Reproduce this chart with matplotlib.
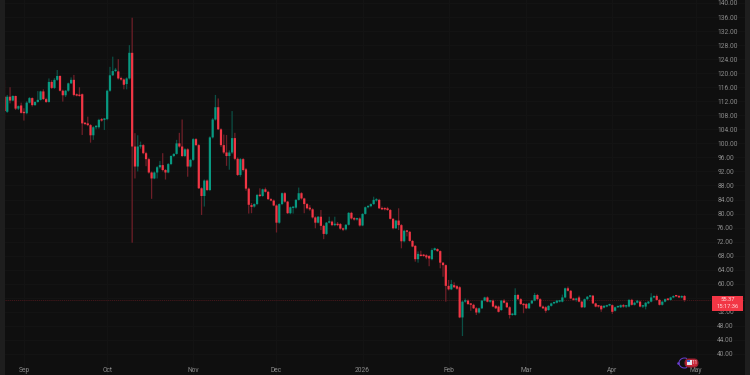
#!/usr/bin/env python3
"""Daily candles on a dark trading-terminal background, saved to out.png."""
import numpy as np
import matplotlib
matplotlib.use("Agg")
import matplotlib.pyplot as plt
from matplotlib.patches import Rectangle, FancyBboxPatch, Circle, Arc
from matplotlib.transforms import IdentityTransform

opens = [
    113.3,109.0,113.3,112.2,113.5,109.9,110.8,108.7,108.6,111.6,
    112.9,110.9,111.8,112.4,114.8,112.6,111.8,117.5,115.8,118.1,
    119.2,115.0,113.7,115.0,117.1,118.1,113.8,113.7,114.0,105.7,
    105.7,105.2,102.3,104.6,104.6,106.9,106.7,106.9,115.0,119.4,
    120.6,120.5,118.5,118.2,116.9,118.5,125.8,99.1,93.4,99.1,
    99.5,97.2,95.5,91.7,90.0,91.7,93.2,93.8,92.4,91.7,
    94.1,96.4,97.0,100.0,99.1,96.4,98.3,93.4,95.3,101.2,
    99.5,87.2,85.0,89.4,86.7,101.7,106.8,110.3,104.0,99.5,
    97.4,96.4,97.4,101.5,95.6,91.0,95.5,92.6,87.1,82.4,
    82.0,82.7,85.3,85.0,86.9,86.2,84.1,83.7,82.3,77.4,
    82.7,85.8,83.4,80.1,81.6,81.7,83.9,85.8,84.3,82.7,
    81.7,81.2,78.9,77.4,79.1,76.5,74.2,77.4,77.7,76.7,
    77.0,77.0,75.7,75.5,76.8,80.2,78.6,78.3,78.6,76.6,
    79.9,81.8,82.1,82.7,83.7,83.9,81.5,81.5,81.5,81.0,
    78.5,75.8,78.0,76.7,72.1,75.1,74.8,72.2,70.8,67.0,
    68.2,68.2,68.1,67.9,67.0,69.6,69.9,69.3,66.0,65.3,
    59.4,58.4,59.6,59.3,59.0,50.4,54.9,55.2,54.2,54.0,
    53.0,51.8,53.0,55.2,56.1,54.9,55.2,53.7,53.5,52.5,
    55.2,54.6,53.3,51.1,51.1,56.8,55.6,54.2,54.2,53.0,
    54.4,55.2,56.8,55.6,53.5,53.3,52.5,53.7,54.4,54.6,
    54.9,54.9,56.1,58.7,58.0,55.8,55.4,56.1,54.9,53.3,
    55.6,56.3,56.6,54.4,53.7,53.7,53.2,53.5,53.8,53.9,
    52.3,53.3,53.3,53.9,53.5,53.5,55.4,54.0,54.6,54.9,
    53.5,53.5,54.4,54.9,56.1,56.5,55.4,54.0,54.9,55.6,
    55.4,56.1,56.5,56.5,56.1,56.5,
]
highs = [
    118.1,113.8,116.0,113.7,113.6,110.8,111.6,110.0,112.0,113.2,
    113.1,112.0,114.9,115.0,115.4,113.0,118.5,118.0,118.6,120.9,
    119.4,115.3,115.2,117.3,118.8,119.5,114.2,116.0,114.2,106.0,
    107.6,105.5,104.9,105.2,107.0,107.2,107.2,115.3,121.8,124.7,
    121.5,124.0,119.0,118.5,118.8,128.0,135.8,102.9,102.3,100.5,
    99.8,97.6,95.9,92.0,92.0,93.5,95.0,97.2,92.7,94.4,
    96.6,97.2,101.0,103.0,106.8,98.6,98.6,95.6,101.5,101.5,
    99.8,87.5,89.7,89.7,102.0,107.2,113.8,112.8,104.3,102.5,
    102.4,98.0,109.2,103.0,96.0,95.8,95.8,93.0,87.4,83.0,
    82.9,85.6,87.2,87.1,87.4,86.5,84.4,84.0,82.6,82.9,
    86.0,86.1,83.6,82.0,82.0,84.1,87.4,86.1,84.5,83.0,
    82.4,81.5,79.2,79.3,81.0,76.8,77.6,79.1,78.0,79.1,
    77.6,77.3,76.0,77.0,80.4,80.5,79.0,78.8,78.9,80.1,
    82.0,82.3,82.9,84.8,84.4,84.2,82.0,81.8,81.9,81.3,
    78.7,78.2,81.5,77.0,75.4,75.3,75.0,72.5,71.0,69.2,
    69.4,68.5,68.4,68.2,70.1,70.3,70.1,69.5,66.2,65.5,
    61.1,61.1,60.4,59.6,59.3,55.2,55.8,55.5,54.5,54.3,
    53.3,53.2,55.4,56.3,56.4,55.4,55.5,54.0,53.8,55.4,
    55.6,54.9,53.6,51.6,58.7,57.1,55.9,54.5,54.5,54.6,
    55.4,57.4,57.1,55.9,53.8,53.6,53.9,54.6,54.9,55.4,
    55.4,56.9,58.9,59.2,58.2,56.0,56.0,56.6,55.1,55.8,
    56.5,56.8,56.8,54.6,53.9,53.9,53.9,54.0,54.3,54.1,
    53.5,53.7,54.1,54.2,53.9,55.6,55.7,54.9,55.4,55.2,
    53.9,54.8,55.1,57.3,56.7,56.9,55.6,55.0,55.8,55.9,
    56.3,56.7,56.8,56.8,56.7,56.8,
]
lows = [
    106.7,108.7,111.4,112.0,109.5,109.5,108.5,106.5,108.3,111.4,
    110.5,110.7,111.6,112.2,112.4,111.5,111.6,115.5,115.5,117.8,
    114.8,111.9,113.2,114.7,116.9,113.4,113.4,113.3,102.4,105.2,
    104.9,100.2,101.0,104.0,104.2,106.2,103.8,106.6,114.7,119.2,
    120.3,118.2,117.9,115.4,115.4,118.2,71.7,90.0,92.0,98.5,
    96.9,93.5,91.4,84.2,89.8,90.0,92.8,92.0,89.7,91.5,
    93.8,96.1,96.8,98.8,96.1,96.1,90.5,93.1,95.0,99.2,
    87.0,79.6,82.0,86.4,86.4,101.4,106.5,103.8,99.0,97.0,
    93.6,92.5,97.0,95.2,90.7,90.5,92.0,86.5,80.0,80.1,
    81.7,82.4,84.7,84.8,86.0,83.9,83.5,82.1,74.6,77.1,
    82.4,83.1,79.9,79.8,80.0,81.4,83.7,84.0,80.1,81.2,
    80.8,78.6,75.8,77.2,75.3,72.7,73.9,77.2,76.4,76.4,
    76.4,75.4,75.0,75.2,76.6,78.3,78.0,78.0,76.3,76.4,
    79.7,81.5,81.8,82.5,83.4,81.3,81.0,80.9,80.8,78.3,
    75.5,75.6,75.3,70.1,71.8,73.5,72.0,70.4,66.3,66.0,
    67.8,67.7,67.0,65.0,66.7,69.4,69.1,64.4,62.0,54.9,
    58.1,58.2,58.8,58.3,50.2,45.1,54.6,54.0,52.3,52.8,
    51.1,51.5,52.8,55.0,54.7,54.6,53.3,52.8,51.8,52.3,
    54.4,53.1,50.1,50.9,50.9,55.4,54.0,51.6,52.8,52.8,
    54.2,55.0,55.4,53.3,52.8,51.7,52.3,53.5,54.2,54.4,
    54.7,54.7,55.9,57.8,55.6,55.2,54.9,54.7,53.1,53.1,
    55.4,56.1,54.2,53.3,53.2,52.0,53.0,53.3,53.6,51.4,
    52.1,53.1,53.1,53.2,53.1,53.3,53.8,53.8,54.4,53.3,
    53.1,52.7,54.2,54.7,55.9,55.2,53.8,53.8,54.7,55.2,
    55.2,55.9,56.2,56.0,55.9,54.9,
]
closes = [
    109.2,113.3,112.2,113.5,109.9,110.6,108.7,108.6,111.6,112.9,
    110.9,111.8,112.4,114.8,112.6,111.8,117.5,115.8,118.1,119.2,
    115.0,113.7,115.0,117.1,118.1,113.8,113.6,113.5,105.7,105.5,
    105.2,102.3,104.6,104.8,106.7,106.5,106.9,115.0,119.4,120.6,
    120.7,118.5,118.2,116.7,118.5,125.8,99.1,93.4,99.1,99.5,
    97.2,95.5,91.7,90.0,91.7,93.2,93.8,92.4,91.7,94.1,
    96.4,97.0,100.0,99.1,96.4,98.3,93.4,95.3,101.2,99.5,
    87.2,85.0,89.4,86.7,101.7,106.8,110.3,104.0,99.5,97.4,
    96.4,97.4,101.5,95.6,91.0,95.5,92.4,87.1,82.5,81.9,
    82.7,85.3,85.0,86.9,86.2,84.1,83.7,82.3,77.4,82.7,
    85.8,83.4,80.1,81.8,81.7,83.9,85.8,84.3,82.7,81.5,
    81.2,78.9,77.4,79.1,76.5,74.2,77.4,77.7,76.7,77.0,
    76.7,75.7,75.4,76.8,80.2,78.6,78.3,78.6,76.6,79.9,
    81.8,82.1,82.7,83.9,83.9,81.5,81.2,81.2,81.0,78.5,
    75.8,78.0,76.7,72.1,75.1,74.8,72.2,70.6,67.0,68.5,
    67.9,67.9,67.5,67.2,69.6,70.1,69.3,66.0,65.3,59.4,
    58.4,59.9,59.0,58.6,50.4,54.9,55.2,54.2,54.0,53.0,
    51.8,53.0,55.2,56.1,54.9,55.2,53.5,53.0,52.0,55.2,
    54.6,53.3,51.1,51.4,56.8,55.6,54.2,53.9,53.0,54.4,
    55.2,56.8,55.6,53.5,53.0,52.3,53.7,54.4,54.6,55.2,
    55.2,56.1,58.7,58.0,55.8,55.4,55.8,54.9,53.3,55.6,
    56.3,56.6,54.4,53.5,53.5,52.7,53.7,53.8,54.0,52.0,
    53.3,53.5,53.9,53.5,53.7,55.4,54.0,54.6,55.2,53.5,
    53.7,54.6,54.9,56.1,56.3,55.4,54.0,54.9,55.6,55.4,
    56.1,56.5,56.4,56.1,56.5,55.37,
]

price_ticks = list(range(40, 141, 4))
hidden_ticks = [56]  # под плашкой цены, в оригинале не видно
month_pos = [7, 37, 68, 98, 129, 160, 188, 219, 249]
month_labels = ["Sep", "Oct", "Nov", "Dec", "2026", "Feb", "Mar", "Apr", "May"]
last_price = 55.37
countdown = "15:17:36"

BG = "#0f0f0f"
STRIP = "#1e1e1e"
UP, DOWN = "#089981", "#f23645"
UP_WICK, DOWN_WICK = "#0b4f45", "#6e1f28"
GRID = "#141414"
TICK_TXT = "#8a8a8a"

plt.rcParams["font.family"] = ["Roboto", "DejaVu Sans"]

o, h, l, c = map(np.array, (opens, highs, lows, closes))
idx = np.arange(o.size)
up = c >= o

fig = plt.figure(figsize=(7.5, 3.75), dpi=100, facecolor=STRIP)
ax = fig.add_axes([5 / 750, 0, 740 / 750, 1], facecolor=BG)
# один индекс = 2.775 px, одна цена = 3.51 px
ax.set_xlim(0.18, 266.8)
ax.set_ylim(34.0, 140.85)
for s in ax.spines.values():
    s.set_visible(False)

ax.set_yticks(price_ticks, ["" if v in hidden_ticks else f"{v:.2f}" for v in price_ticks])
ax.yaxis.tick_right()
ax.tick_params(axis="y", length=0, pad=-20, labelsize=4.8, labelcolor=TICK_TXT)
ax.set_xticks(month_pos, month_labels)
ax.tick_params(axis="x", length=0, pad=-5.5, labelsize=4.8, labelcolor=TICK_TXT)
ax.grid(color=GRID, lw=0.7)
ax.set_axisbelow(True)

wicks = ax.vlines(idx, l, h, colors=np.where(up, UP_WICK, DOWN_WICK), lw=0.9, zorder=2)
wicks.set_snap(False)
bodies = ax.bar(idx, np.maximum(np.abs(c - o), 0.4), bottom=np.minimum(o, c), width=0.8,
                color=np.where(up, UP, DOWN), lw=0, zorder=3)
for b in bodies:
    b.set_snap(False)

ax.axhline(last_price, color="#4a181d", lw=0.6, ls=(0, (1.5, 1)), zorder=1)

# плашка цены и значок справа внизу — в пикселях
px = IdentityTransform()
fig.add_artist(Rectangle((712, 375 - 311), 31, 15, transform=px, color=DOWN, lw=0))
fig.text(727.5 / 750, 1 - 299.5 / 375, f"{last_price:.2f}", color="#ffd9dc", fontsize=4.2,
         ha="center", va="center")
fig.text(727.5 / 750, 1 - 307 / 375, countdown, color="#ffd9dc", fontsize=4.2,
         ha="center", va="center")

fig.add_artist(FancyBboxPatch((685, 375 - 367), 13, 8, boxstyle="round,pad=0,rounding_size=4",
                              transform=px, fc="#c9283a", ec="#8c1f2d", lw=0.8))
fig.add_artist(Rectangle((687, 375 - 365), 5, 5, transform=px, color="#e6e6ee", lw=0))
fig.add_artist(Rectangle((687, 375 - 362), 3, 2, transform=px, color="#3c5fd0", lw=0))
fig.add_artist(Circle((678.5, 375 - 363.5), 1.3, transform=px, color="#6a3fd0", lw=0))
fig.add_artist(Arc((684.5, 375 - 363), 11, 10, theta1=60, theta2=300, transform=px,
                   color="#6a3fd0", lw=0.7))
fig.text(694.8 / 750, 1 - 363 / 375, "11", color="#f0d0d4", fontsize=4.2,
         ha="center", va="center")

fig.savefig("out.png", dpi=100, facecolor=fig.get_facecolor())
